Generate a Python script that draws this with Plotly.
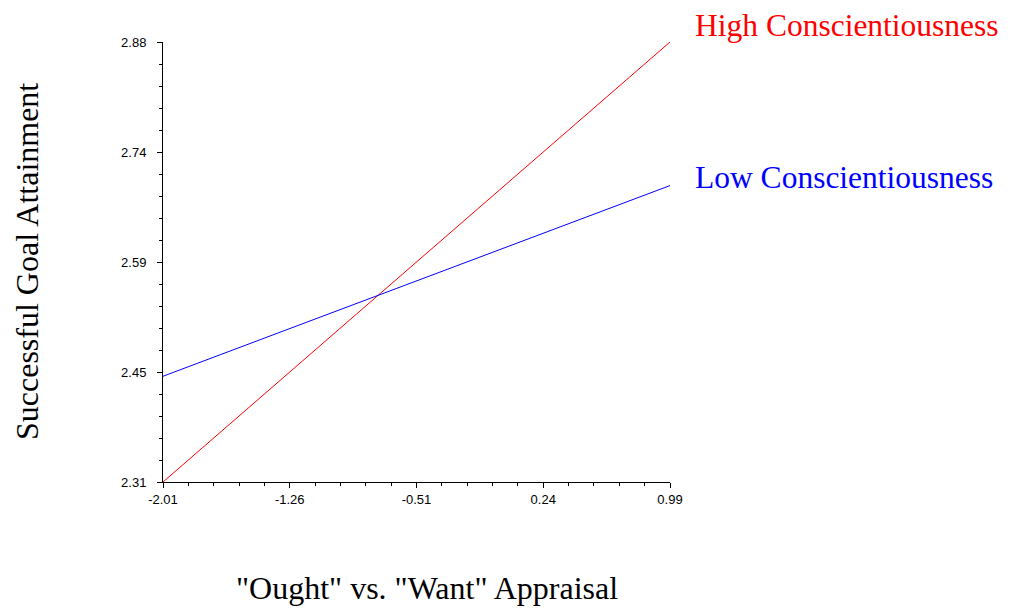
import plotly.graph_objects as go
import numpy as np

x_vals = [-2.01, 0.99]
high_consc = [2.31, 2.88]
low_consc = [2.447, 2.694]

x_ticks = [-2.01, -1.26, -0.51, 0.24, 0.99]
x_ticktext = ["-2.01", "-1.26", "-0.51", "0.24", "0.99"]
y_ticktext = ["2.31", "2.45", "2.59", "2.74", "2.88"]
y_min, y_max = 2.31, 2.88
y_ticks = list(np.linspace(y_min, y_max, len(y_ticktext)))

fig = go.Figure()
fig.add_trace(go.Scatter(x=x_vals, y=high_consc, mode="lines",
                         line=dict(color="#ff0000", width=1), name="High Conscientiousness"))
fig.add_trace(go.Scatter(x=x_vals, y=low_consc, mode="lines",
                         line=dict(color="#0000ff", width=1), name="Low Conscientiousness"))

serif = "Liberation Serif, Times New Roman, serif"
sans = "Liberation Sans, Arial, sans-serif"

fig.add_annotation(x=1, xref="paper", xanchor="left", xshift=23,
                   y=high_consc[-1], yref="y", yanchor="middle", yshift=17,
                   text="High Conscientiousness", showarrow=False,
                   font=dict(family=serif, size=31.5, color="#ff0000"))
fig.add_annotation(x=1, xref="paper", xanchor="left", xshift=23,
                   y=low_consc[-1], yref="y", yanchor="middle", yshift=8,
                   text="Low Conscientiousness", showarrow=False,
                   font=dict(family=serif, size=31.5, color="#0000ff"))
# axis titles
fig.add_annotation(x=0.5, xref="paper", xanchor="center", xshift=10,
                   y=0, yref="paper", yanchor="middle", yshift=-106,
                   text='"Ought" vs. "Want" Appraisal', showarrow=False,
                   font=dict(family=serif, size=32, color="black"))
fig.add_annotation(x=0, xref="paper", xanchor="center", xshift=-136,
                   y=0.5, yref="paper", yanchor="middle",
                   text="Successful Goal Attainment", showarrow=False, textangle=-90,
                   font=dict(family=serif, size=32, color="black"))

fig.update_layout(
    width=1003, height=602,
    margin=dict(l=155, r=341, t=34, b=128),
    paper_bgcolor="white", plot_bgcolor="white",
    showlegend=False,
    font=dict(family=sans, size=13, color="black"),
    xaxis=dict(
        range=[x_vals[0], x_vals[-1]],
        tickmode="array", tickvals=x_ticks, ticktext=x_ticktext,
        ticks="outside", ticklen=5, tickcolor="black", tickwidth=1,
        showline=True, linecolor="black", linewidth=1,
        showgrid=False, zeroline=False,
        minor=dict(ticks="outside", ticklen=3, tickcolor="black", dtick=0.15, tick0=-2.01, showgrid=False),
        tickfont=dict(family=sans, size=13),
    ),
    yaxis=dict(
        range=[y_min, y_max],
        tickmode="array", tickvals=y_ticks, ticktext=y_ticktext,
        ticks="outside", ticklen=5, tickcolor="black", tickwidth=1,
        showline=True, linecolor="black", linewidth=1,
        showgrid=False, zeroline=False,
        minor=dict(ticks="outside", ticklen=3, tickcolor="black", dtick=(y_max - y_min) / 20, tick0=y_min, showgrid=False),
        tickfont=dict(family=sans, size=13),
        ticklabelstandoff=8,
    ),
)

fig.write_html("out.html")
